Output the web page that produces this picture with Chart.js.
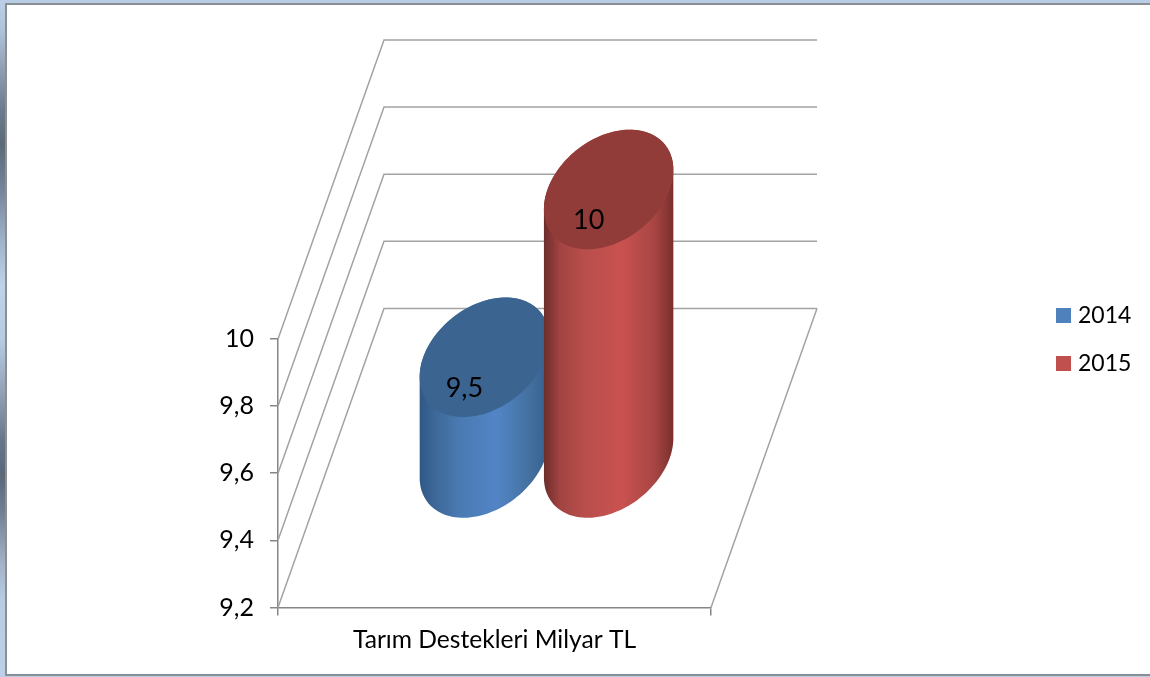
<!DOCTYPE html>
<html>
<head>
<meta charset="utf-8">
<title>Tarım Destekleri</title>
<script src="https://cdn.jsdelivr.net/npm/chart.js@4/dist/chart.umd.min.js"></script>
<style>
  html, body { margin: 0; padding: 0; width: 1150px; height: 677px; overflow: hidden; background: #fff; }
  #frameTop { position: absolute; left: 0; top: 0; width: 1150px; height: 3px; background: #b9cde5; }
  #frameTopLine { position: absolute; left: 5px; top: 3px; width: 1145px; height: 2px; background: #8a8f96; }
  #frameLeft { position: absolute; left: 0; top: 0; width: 5px; height: 677px;
    background: linear-gradient(to bottom, #bdd0e8 0, #b0c3da 30px, #8f9fb0 70px, #6c7c8c 110px, #5c6a78 145px, #74859a 190px, #a0b2c8 240px, #bfd2ea 285px, #b8cbe3 340px, #8c9cae 400px, #66778a 440px, #5a6878 475px, #6f7f90 510px, #a0b0c4 560px, #b9cce4 600px, #bdd0e8 677px); }
  #frameLeftLine { position: absolute; left: 5px; top: 3px; width: 2px; height: 672px; background: #8a8f96; }
  #frameBottom { position: absolute; left: 5px; top: 674px; width: 1145px; height: 2px; background: #8a8f96; }
  #frameBottom2 { position: absolute; left: 0; top: 676px; width: 1150px; height: 1px; background: #b9cde5; }
  canvas { position: absolute; left: 0; top: 0; }
</style>
</head>
<body>
<div id="frameTop"></div><div id="frameTopLine"></div><div id="frameLeft"></div><div id="frameLeftLine"></div><div id="frameBottom"></div><div id="frameBottom2"></div>
<canvas id="myChart" width="1150" height="677"></canvas>
<script>
let categories = ['Tarım Destekleri Milyar TL'];
let years = ['2014', '2015'];
let values2014 = [9.5];
let values2015 = [10];
let valueLabels = ['9,5', '10'];
let yTickLabels = ['9,2', '9,4', '9,6', '9,8', '10'];

const fontName = 'Lato, "Open Sans", sans-serif';
const gridColor = '#a3a3a3';
// how far the back wall sits from the front plane
const depthX = 106;
const depthY = -299;
// cylinders stand a touch left of the middle of the floor
const nudgeX = -1;

// colours for side gradient, left to right
const sideStops = [0, 0.12, 0.3, 0.6, 0.85, 1];
const sideColors = [
  ['#2f5885', '#3d6898', '#4a7ab2', '#5285c6', '#43709f', '#355f8e'],
  ['#6b2d2b', '#a04341', '#b84e4b', '#c9524f', '#a84644', '#7a2f2d']
];
const topColors = ['#3c6491', '#923c39'];

function ellipsePoint(cx, cy, a, t) {
  return [cx + a * Math.cos(t) + depthX * 0.2 * Math.sin(t), cy + depthY * 0.2 * Math.sin(t)];
}

function traceEllipse(ctx, cx, cy, a) {
  ctx.beginPath();
  for (let i = 0; i <= 120; i++) {
    let p = ellipsePoint(cx, cy, a, i / 120 * Math.PI * 2);
    if (i === 0) ctx.moveTo(p[0], p[1]); else ctx.lineTo(p[0], p[1]);
  }
  ctx.closePath();
}

function drawCylinder(ctx, bar, index, floorY) {
  let cx = bar.x + depthX / 2 + nudgeX;
  let topY = bar.y + depthY / 2;
  let baseY = floorY + depthY / 2;
  let a = bar.width / 2 - 1;
  let t0 = Math.atan2(depthX * 0.2, a);
  let right = ellipsePoint(cx, baseY, a, t0);
  let halfW = right[0] - cx;

  let grad = ctx.createLinearGradient(cx - halfW, 0, cx + halfW, 0);
  sideStops.forEach((s, i) => grad.addColorStop(s, sideColors[index][i]));

  ctx.beginPath();
  for (let i = 0; i <= 60; i++) {
    // front half of the lower ellipse, right extreme round to left extreme
    let p = ellipsePoint(cx, baseY, a, t0 - i / 60 * Math.PI);
    if (i === 0) ctx.moveTo(p[0], p[1]); else ctx.lineTo(p[0], p[1]);
  }
  for (let i = 0; i <= 60; i++) {
    let p = ellipsePoint(cx, topY, a, t0 + Math.PI - i / 60 * Math.PI);
    ctx.lineTo(p[0], p[1]);
  }
  ctx.closePath();
  ctx.fillStyle = grad;
  ctx.fill();

  traceEllipse(ctx, cx, topY, a);
  ctx.fillStyle = topColors[index];
  ctx.fill();
}

const wallsPlugin = {
  id: 'walls',
  beforeDatasetsDraw(chart) {
    const ctx = chart.ctx;
    const yScale = chart.scales.y;
    const area = chart.chartArea;
    ctx.save();
    ctx.strokeStyle = gridColor;
    ctx.lineWidth = 1.5;
    yScale.ticks.forEach(t => {
      let y = yScale.getPixelForValue(t.value);
      ctx.beginPath();
      ctx.moveTo(area.left, y);
      ctx.lineTo(area.left + depthX, y + depthY);
      ctx.lineTo(area.right + depthX, y + depthY);
      ctx.stroke();
    });
    // floor right edge
    ctx.beginPath();
    ctx.moveTo(area.right + depthX, area.bottom + depthY);
    ctx.lineTo(area.right, area.bottom);
    ctx.stroke();

    let n = chart.data.datasets.length;
    let floorY = yScale.getPixelForValue(yScale.min);
    for (let d = 0; d < n; d++) {
      chart.getDatasetMeta(d).data.forEach(bar => drawCylinder(ctx, bar, d, floorY));
    }
    ctx.fillStyle = '#000';
    ctx.font = '27px ' + fontName;
    ctx.textBaseline = 'middle';
    ctx.textAlign = 'center';
    for (let d = 0; d < n; d++) {
      chart.getDatasetMeta(d).data.forEach(bar => {
        ctx.fillText(valueLabels[d], bar.x + depthX / 2 + nudgeX - 20, bar.y + depthY / 2 + 31);
      });
    }
    ctx.restore();
    return false; // cylinders replace the flat bars
  },
  afterDraw(chart) {
    // legend sits far right of the plot
    const ctx = chart.ctx;
    ctx.save();
    ctx.font = '23px ' + fontName;
    ctx.textBaseline = 'middle';
    ctx.textAlign = 'left';
    chart.data.datasets.forEach((ds, i) => {
      let y = 308 + i * 48;
      ctx.fillStyle = ds.backgroundColor;
      ctx.fillRect(1056, y, 15, 15);
      ctx.fillStyle = '#000';
      ctx.fillText(ds.label, 1078, y + 8);
    });
    ctx.restore();
  }
};

const ctx = document.getElementById('myChart').getContext('2d');
const myChart = new Chart(ctx, {
  type: 'bar',
  data: {
    labels: categories,
    datasets: [{
      label: years[0],
      data: values2014,
      backgroundColor: '#4f81bd',
      borderWidth: 0
    },
    {
      label: years[1],
      data: values2015,
      backgroundColor: '#c0504d',
      borderWidth: 0
    }]
  },
  plugins: [wallsPlugin],
  options: {
    responsive: false,
    animation: false,
    categoryPercentage: 0.574,
    barPercentage: 1,
    layout: { padding: { left: 0, right: 439, top: 339, bottom: 12 } },
    plugins: {
      tooltip: { enabled: false },
      legend: { display: false }
    },
    scales: {
      x: {
        grid: { drawOnChartArea: false, tickLength: 8, tickColor: '#868686', lineWidth: 1.5 },
        border: { color: '#868686', width: 1.5 },
        ticks: { color: '#000', padding: 10, font: { family: fontName, size: 24.6 } }
      },
      y: {
        min: 9.2,
        max: 10,
        afterFit(scale) { scale.width = 278; },
        grid: { drawOnChartArea: false, tickLength: 8, tickColor: '#868686', lineWidth: 1.5 },
        border: { color: '#868686', width: 1.5 },
        ticks: {
          stepSize: 0.2,
          color: '#000',
          padding: 16,
          font: { family: fontName, size: 25 },
          callback: (v, i) => yTickLabels[i]
        }
      }
    }
  }
});
</script>
</body>
</html>
